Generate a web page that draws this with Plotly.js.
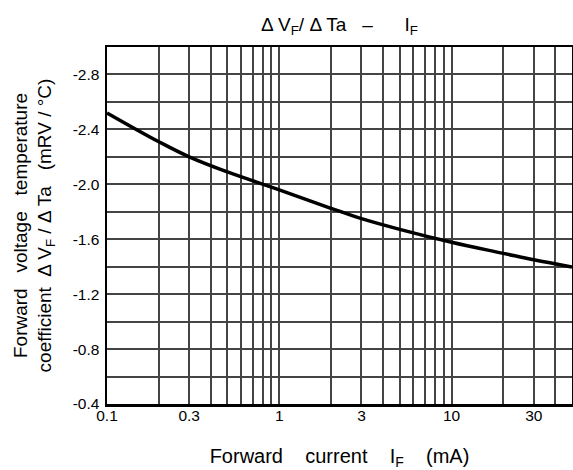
<!DOCTYPE html>
<html>
<head>
<meta charset="utf-8">
<script src="https://cdn.plot.ly/plotly-3.0.1.min.js"></script>
<style>
  html, body { margin: 0; padding: 0; background: #fff; }
  #chart { width: 573px; height: 470px; }
</style>
</head>
<body>
<div id="chart"></div>
<script>
// Forward voltage temperature coefficient vs forward current
const currentMA = [0.1, 0.2, 0.3, 0.5, 1, 2, 3, 5, 10, 20, 30, 50];
const tempCoeff = [-2.52, -2.31, -2.20, -2.09, -1.96, -1.825, -1.75, -1.672, -1.578, -1.497, -1.45, -1.398];

// labelled ticks and the finer grid lines between them
const xLabelVals = [0.1, 0.3, 1, 3, 10, 30];
const xLabelText = ['0.1', '0.3', '1', '3', '10', '30'];
const xGridVals = [0.1, 0.2, 0.3, 0.4, 0.5, 0.6, 0.7, 0.8, 0.9,
                   1, 2, 3, 4, 5, 6, 7, 8, 9,
                   10, 20, 30, 40];

const yLabelVals = [-0.4, -0.8, -1.2, -1.6, -2.0, -2.4, -2.8];
const yLabelText = ['-0.4', '-0.8', '-1.2', '-1.6', '-2.0', '-2.4', '-2.8'];
const yGridVals = [-0.4, -0.6, -0.8, -1.0, -1.2, -1.4, -1.6, -1.8, -2.0, -2.2, -2.4, -2.6, -2.8];

const sp = n => '\u00A0'.repeat(n);

const curve = {
    x: currentMA,
    y: tempCoeff,
    mode: 'lines',
    line: { color: '#000', width: 3.5, shape: 'spline', smoothing: 1.1 },
    showlegend: false,
    hoverinfo: 'skip'
};

const font = 'Liberation Sans, Arial, sans-serif';
const grid = { showgrid: true, gridcolor: '#444', gridwidth: 2 };

const layout = {
    width: 573,
    height: 470,
    margin: { l: 107, r: 1, t: 47, b: 66, pad: 0 },
    paper_bgcolor: '#fff',
    plot_bgcolor: '#fff',
    font: { family: font, color: '#000', size: 15.5 },
    title: {
        text: '\u0394 V<sub>F</sub>/ \u0394 Ta' + sp(3) + '\u2013' + sp(6) + 'I<sub>F</sub>',
        font: { family: font, size: 19, color: '#000' },
        x: 0.5, xref: 'paper', xanchor: 'center',
        y: 1 - 24 / 470, yref: 'container', yanchor: 'middle'
    },
    xaxis: {
        type: 'log',
        range: [-1, Math.log10(50)],
        tickmode: 'array',
        tickvals: xLabelVals,
        ticktext: xLabelText,
        ticks: '',
        ticklabelstandoff: -4,
        tickfont: { family: font, size: 15.5, color: '#000' },
        ...grid,
        minor: { tickmode: 'array', tickvals: xGridVals, ticks: '', ...grid },
        showline: true,
        linecolor: '#000',
        linewidth: 2.5,
        mirror: true,
        zeroline: false,
        title: {
            text: 'Forward' + sp(4) + 'current' + sp(4) + 'I<sub>F</sub>' + sp(4) + '(mA)',
            font: { family: font, size: 20, color: '#000' },
            standoff: 27
        }
    },
    yaxis: {
        range: [-0.4, -3.0],
        tickmode: 'array',
        tickvals: yLabelVals,
        ticktext: yLabelText,
        ticks: '',
        ticklabelstandoff: 2,
        tickfont: { family: font, size: 15.5, color: '#000' },
        ...grid,
        minor: { tickmode: 'array', tickvals: yGridVals, ticks: '', ...grid },
        showline: true,
        linecolor: '#000',
        linewidth: 2.5,
        mirror: true,
        zeroline: false,
        title: {
            text: 'Forward' + sp(3) + 'voltage' + sp(3) + 'temperature<br>coefficient' + sp(2) +
                  '\u0394 V<sub>F</sub> / \u0394 Ta' + sp(3) + '(mRV / \u00B0C)',
            font: { family: font, size: 19, color: '#000' },
            standoff: 16
        }
    }
};

Plotly.newPlot('chart', [curve], layout, { staticPlot: true, displayModeBar: false });
</script>
</body>
</html>
